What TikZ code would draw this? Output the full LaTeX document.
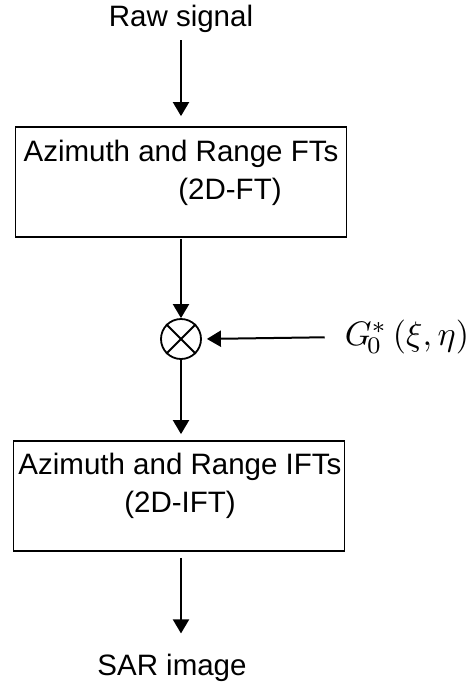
\documentclass[tikz,border=0pt]{standalone}
\usepackage{fontspec}
\setmainfont{Liberation Sans}
\usepackage{graphicx}
\usepackage{tikz}
\usetikzlibrary{arrows.meta, positioning}

\begin{document}
\begin{tikzpicture}[
			x=1pt, y=-1pt,
			term/.style={inner sep=0pt, font=\fontsize{29.5}{40}\selectfont},
			stage/.style={rectangle, draw, line width=1.8pt, minimum width=331pt, minimum height=110pt, inner sep=0pt},
			stagetext/.style={inner sep=0pt, align=center, font=\fontsize{29.5}{38}\selectfont},
			mixer/.style={circle, draw, line width=1.8pt, minimum size=40pt, inner sep=0pt},
			arr/.style={-{Triangle[length=14pt, width=16pt]}, line width=2pt}
			]
			\useasboundingbox (0,0) rectangle (470,686);
			\node[term, anchor=base] (raw) at (181,26) {Raw signal};
			\node[stage] (ft) at (181,182) {};
			\node[stagetext] (fttext) at (181,173) {Azimuth and Range FTs\\\hspace*{98pt}(2D-FT)};
			\node[mixer] (mult) at (181,339) {};
			\draw[line width=1.8pt] (mult.north west) -- (mult.south east);
			\draw[line width=1.8pt] (mult.north east) -- (mult.south west);
			\node[inner sep=0pt] (g0) at (407,337) {\scalebox{3.4}{$G_{\!0}^{*}\,(\xi,\eta)$}};
			\node[stage] (ift) at (179,496) {};
			\node[stagetext] (ifttext) at (180,486) {Azimuth and Range IFTs\\(2D-IFT)};
			\node[term, anchor=base] (sar) at (172,675) {SAR image};
			\draw[arr, shorten <=8pt, shorten >=10pt] (raw.south -| ft.north) -- (ft.north);
			\draw[arr, shorten <=1pt] (ft.south -| mult.north) -- (mult.north);
			\draw[arr, shorten <=20pt, shorten >=5pt] (g0.west) -- (mult.east);
			\draw[arr, shorten >=6pt] (mult.south) -- (mult.south |- ift.north);
			\draw[arr, shorten <=6pt, shorten >=20pt] (mult.south |- ift.south) -- (mult.south |- sar.north);
		\end{tikzpicture}
\end{document}
